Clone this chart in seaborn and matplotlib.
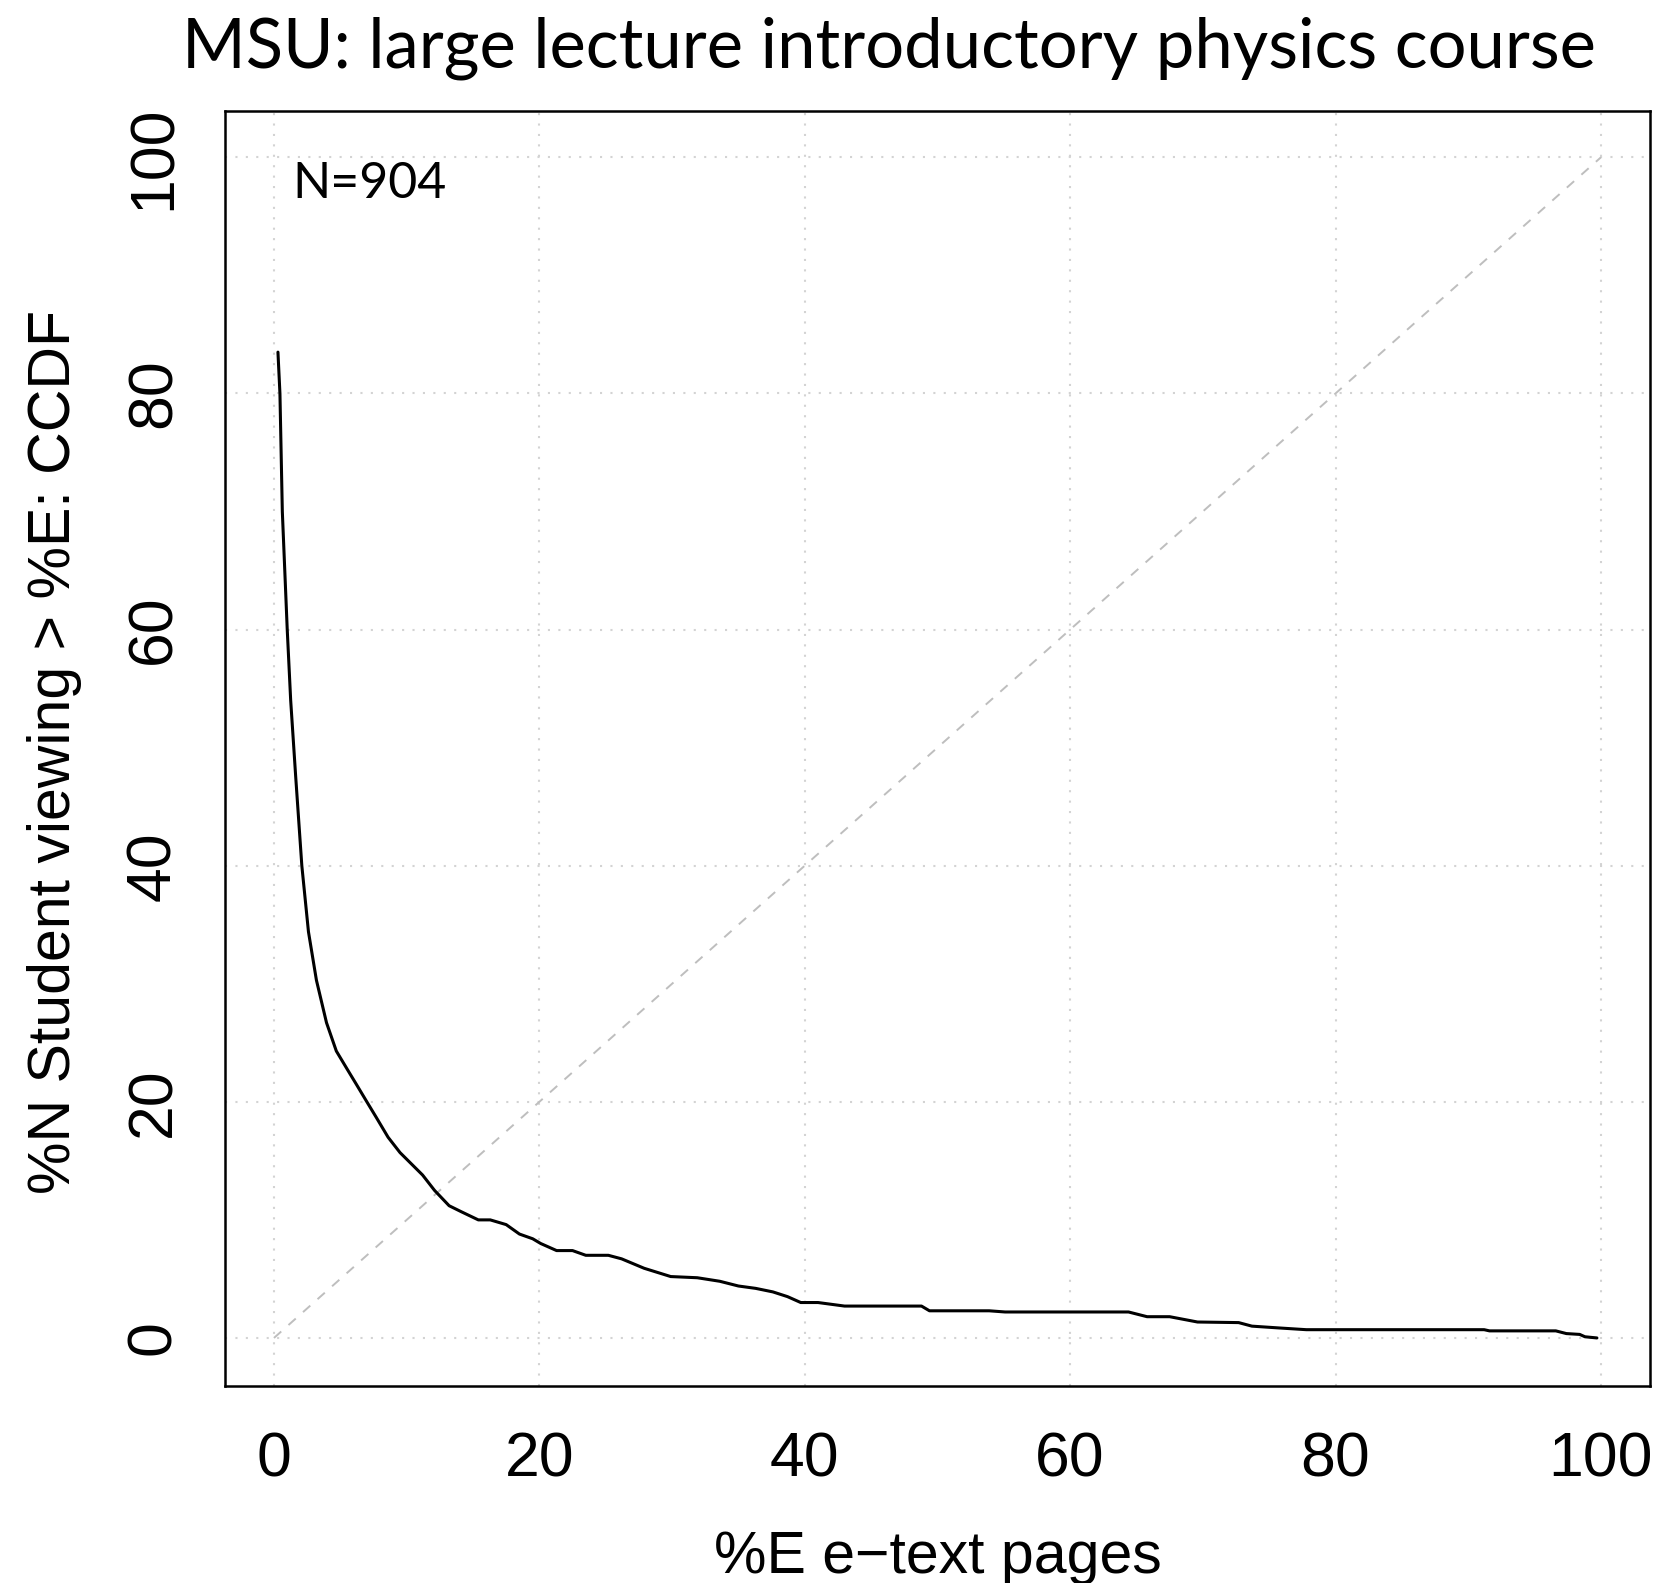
import matplotlib
matplotlib.use("Agg")
import matplotlib.pyplot as plt
import numpy as np
import pandas as pd
import seaborn as sns

# CCDF of e-text page viewing (percent of pages vs percent of students)
pct_pages = [0.3, 0.45, 0.63, 1.0, 1.26, 1.64, 2.1, 2.6, 3.2, 3.96, 4.7, 5.5, 6.2,
             7.0, 7.7, 8.6, 9.5, 11.2, 12.1, 13.2, 14.1, 15.4, 16.3, 17.5, 18.5,
             19.5, 20.1, 21.3, 22.5, 23.5, 25.2, 26.2, 27.9, 29.9, 31.9, 33.6, 35.0,
             36.3, 37.6, 38.7, 39.7, 41.0, 43.0, 48.8, 49.4, 53.9, 55.1, 64.4, 65.8,
             67.5, 69.6, 72.7, 73.7, 75.7, 77.8, 91.2, 91.6, 96.6, 97.4, 98.4, 98.8,
             99.7]
pct_students = [83.5, 80.0, 70.0, 60.0, 54.0, 47.5, 40.0, 34.4, 30.3, 26.7, 24.3,
                22.8, 21.5, 20.0, 18.7, 17.0, 15.7, 13.8, 12.5, 11.2, 10.7, 10.0,
                10.0, 9.6, 8.8, 8.4, 8.0, 7.4, 7.4, 7.0, 7.0, 6.7, 5.9, 5.2, 5.1,
                4.8, 4.4, 4.2, 3.9, 3.5, 3.0, 3.0, 2.7, 2.7, 2.3, 2.3, 2.2, 2.2, 1.8,
                1.8, 1.35, 1.3, 1.0, 0.85, 0.7, 0.7, 0.6, 0.6, 0.37, 0.3, 0.1, 0.0]

# reference diagonal
diag_x = [0, 100]
diag_y = [0, 100]

tick_values = [0, 20, 40, 60, 80, 100]
tick_labels = ["0", "20", "40", "60", "80", "100"]

title_text = "MSU: large lecture introductory physics course"
n_text = "N=904"
x_label = "%E e\u2212text pages"
y_label = "%N Student viewing > %E: CCDF"

sns.set_style("white")
plt.rcParams["font.family"] = ["Liberation Sans", "DejaVu Sans"]

W, H = 1665, 1583
fig = plt.figure(figsize=(W / 100, H / 100), dpi=100)
ax = fig.add_axes([225 / W, 1 - 1386 / H, (1650 - 225) / W, (1386 - 110.7) / H])

curve = pd.DataFrame({"pages": pct_pages, "students": pct_students})
sns.lineplot(data=curve, x="pages", y="students", ax=ax, color="black",
             linewidth=2.2, sort=False, estimator=None, zorder=3)
sns.lineplot(x=diag_x, y=diag_y, ax=ax, color="#bebebe", linewidth=1.4,
             linestyle=(0, (5, 5)), estimator=None, zorder=2)

ax.set_xlim(-3.69, 103.7)
ax.set_ylim(-4.07, 103.95)

# dotted grid at the tick positions
for v in tick_values:
    ax.axvline(v, color="#d3d3d3", linewidth=1.5, linestyle=(0, (1, 4)), zorder=1)
    ax.axhline(v, color="#d3d3d3", linewidth=1.5, linestyle=(0, (1, 4)), zorder=1)

ax.set_xticks(tick_values)
ax.set_xticklabels(tick_labels)
ax.set_yticks(tick_values)
ax.set_yticklabels(tick_labels, rotation=90, va="center")
ax.tick_params(axis="both", direction="out", length=18, width=1.8, color="black",
               labelsize=45, labelcolor="black")
ax.tick_params(axis="x", pad=14)
ax.tick_params(axis="y", pad=12)

for s in ax.spines.values():
    s.set_visible(True)
    s.set_color("black")
    s.set_linewidth(1.8)

ax.set_xlabel(x_label, fontsize=42.5, color="black")
ax.xaxis.label.set_va("baseline")
ax.xaxis.set_label_coords(0.5, -0.1466)

ax.set_ylabel(y_label, fontsize=42.5, color="black")
ax.yaxis.label.set_rotation_mode("anchor")
ax.yaxis.label.set_ha("center")
ax.yaxis.label.set_va("baseline")
ax.yaxis.set_label_coords(-0.1088, 0.497)

ax.text(1.4, 96.55, n_text, fontsize=36, family=["Lato", "DejaVu Sans"],
        ha="left", va="baseline", color="black")

fig.text(889 / W, 1 - 67 / H, title_text, fontsize=49.5,
         family=["Lato", "DejaVu Sans"], ha="center", va="baseline", color="black")

fig.savefig("out.png", dpi=100, facecolor="white")
